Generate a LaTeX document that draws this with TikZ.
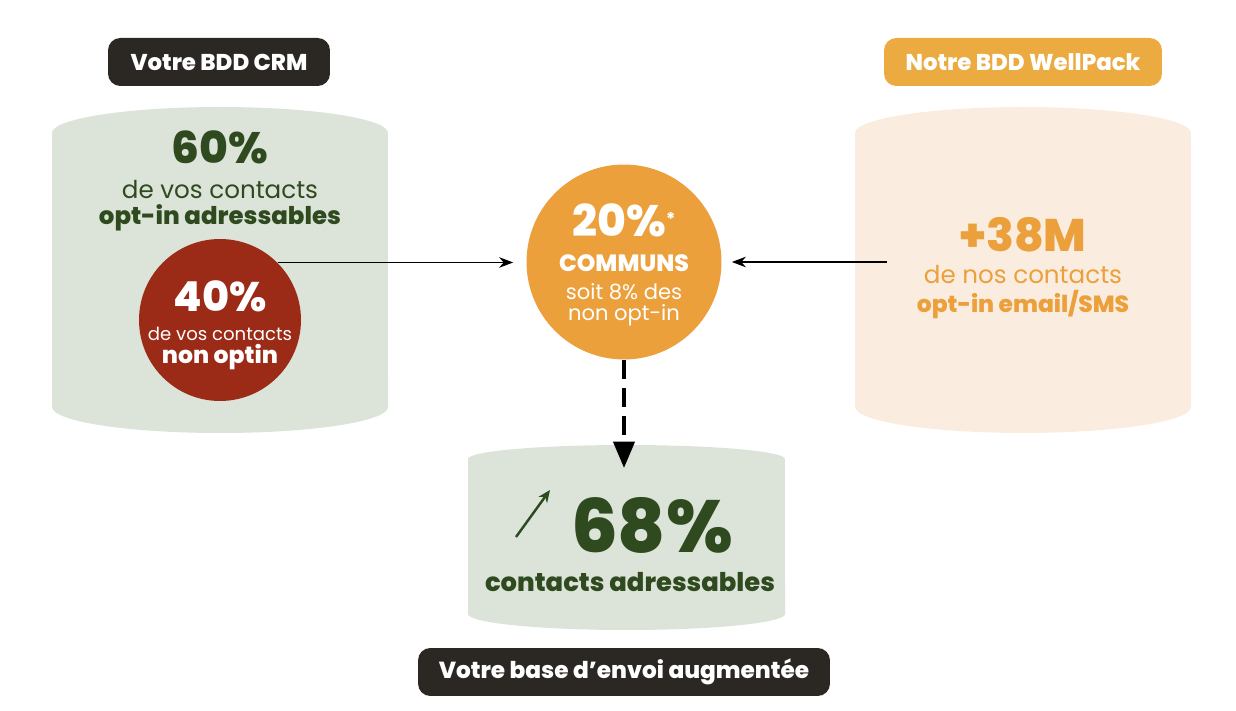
\documentclass[tikz,border=0pt]{standalone}
\usepackage{fontspec}
\setmainfont{Poppins}[BoldFont={Poppins ExtraBold}]
\usetikzlibrary{arrows.meta,positioning}

\definecolor{tagdark}{HTML}{2B2823}
\definecolor{tagorange}{HTML}{ECAB40}
\definecolor{crmgreen}{HTML}{2F4A1E}
\definecolor{crmfill}{HTML}{DCE4DA}
\definecolor{optred}{HTML}{9B2A17}
\definecolor{wporange}{HTML}{EBA03C}
\definecolor{wpfill}{HTML}{FAEDDF}

\begin{document}
\begin{tikzpicture}[x=0.02cm, y=0.02cm, >=Stealth,
  tag/.style={rounded corners=7pt, text=white, inner sep=0pt, minimum height=0.96cm,
    font=\bfseries\fontsize{13}{15}\selectfont},
  big/.style={font=\bfseries\fontsize{25}{27}\selectfont},
  txt/.style={font=\fontsize{14}{16}\selectfont},
  txtb/.style={font=\bfseries\fontsize{13.9}{16}\selectfont},
  flow/.style={->, line width=0.8pt, >={Stealth[length=8pt,width=6pt]}}]

\useasboundingbox (0,0) rectangle (1236,710);

% Databases
\fill[crmfill] (52,303) -- (52,577) arc[start angle=180, end angle=0, x radius=3.36cm, y radius=0.52cm]
  -- (388,303) arc[start angle=0, end angle=-180, x radius=3.36cm, y radius=0.52cm] -- cycle;
\fill[wpfill] (855,303) -- (855,577) arc[start angle=180, end angle=0, x radius=3.36cm, y radius=0.52cm]
  -- (1191,303) arc[start angle=0, end angle=-180, x radius=3.36cm, y radius=0.52cm] -- cycle;
\fill[crmfill] (468,96) -- (468,251) arc[start angle=180, end angle=0, x radius=3.17cm, y radius=0.28cm]
  -- (785,96) arc[start angle=0, end angle=-180, x radius=3.17cm, y radius=0.32cm] -- cycle;

% Tags
\node[tag, fill=tagdark, minimum width=4.44cm] (crmtag) at (219,648) {Votre BDD CRM};
\node[tag, fill=tagorange, minimum width=5.56cm] (wptag) at (1023,648) {Notre BDD WellPack};
\node[tag, fill=tagdark, minimum width=8.24cm, font=\bfseries\fontsize{13.2}{15}\selectfont] (basetag) at (624,38) {Votre base d’envoi augmentée};

% CRM base
\node[big, crmgreen] (crmpct) at (220,563) {60\%};
\node[txt, crmgreen] (crmline1) at (220,520) {de vos contacts};
\node[txtb, crmgreen] (crmline2) at (220,492) {opt-in adressables};

\node[circle, fill=optred, minimum size=3.24cm] (nonopt) at (220,390) {};
\node[font=\bfseries\fontsize{23.5}{25}\selectfont, white] (nonpct) at (220,414) {40\%};
\node[font=\fontsize{10.3}{12}\selectfont, white] (nonline1) at (220,376) {de vos contacts};
\node[font=\bfseries\fontsize{13.4}{15}\selectfont, white] (nonline2) at (220,353) {non optin};

% Common contacts
\node[circle, fill=wporange, minimum size=3.9cm] (common) at (624,448) {};
\node[big, white] (compct) at (624,490) {20\%\raisebox{6pt}{\fontsize{10}{10}\selectfont*}};
\node[font=\bfseries\fontsize{13.4}{15}\selectfont, white] (comline1) at (624,447) {COMMUNS};
\node[font=\fontsize{12}{14}\selectfont, white] (comline2) at (624,418) {soit 8\% des};
\node[font=\fontsize{12}{14}\selectfont, white] (comline3) at (624,395) {non opt-in};

% WellPack base
\node[font=\bfseries\fontsize{26}{28}\selectfont, wporange] (wppct) at (1023,475) {+38M};
\node[txt, wporange] (wpline1) at (1023,435) {de nos contacts};
\node[font=\bfseries\fontsize{13.3}{15}\selectfont, wporange] (wpline2) at (1023,405) {opt-in email/SMS};

% Result
\node[font=\bfseries\fontsize{42}{45}\selectfont, crmgreen] (respct) at (652,185) {68\%};
\node[font=\bfseries\fontsize{14.7}{17}\selectfont, crmgreen] (resline) at (630,128) {contacts adressables};
\draw[->, crmgreen, line width=1.4pt, >={Stealth[length=7pt,width=6pt]}] (516,173) -- (550,220);

% Flows
\coordinate (wpstart) at (887,448);
\coordinate (restip) at (624,242);
\draw[flow] (nonopt.45) -- ([xshift=-0.26cm] common.west |- nonopt.45);
\draw[flow] (wpstart) -- ([xshift=0.2cm] common.east |- wpstart);
\draw[line width=2.2pt, dash pattern=on 11pt off 5pt, -{Triangle[length=15pt,width=12pt]}] (common.south) -- (restip);

\end{tikzpicture}
\end{document}
